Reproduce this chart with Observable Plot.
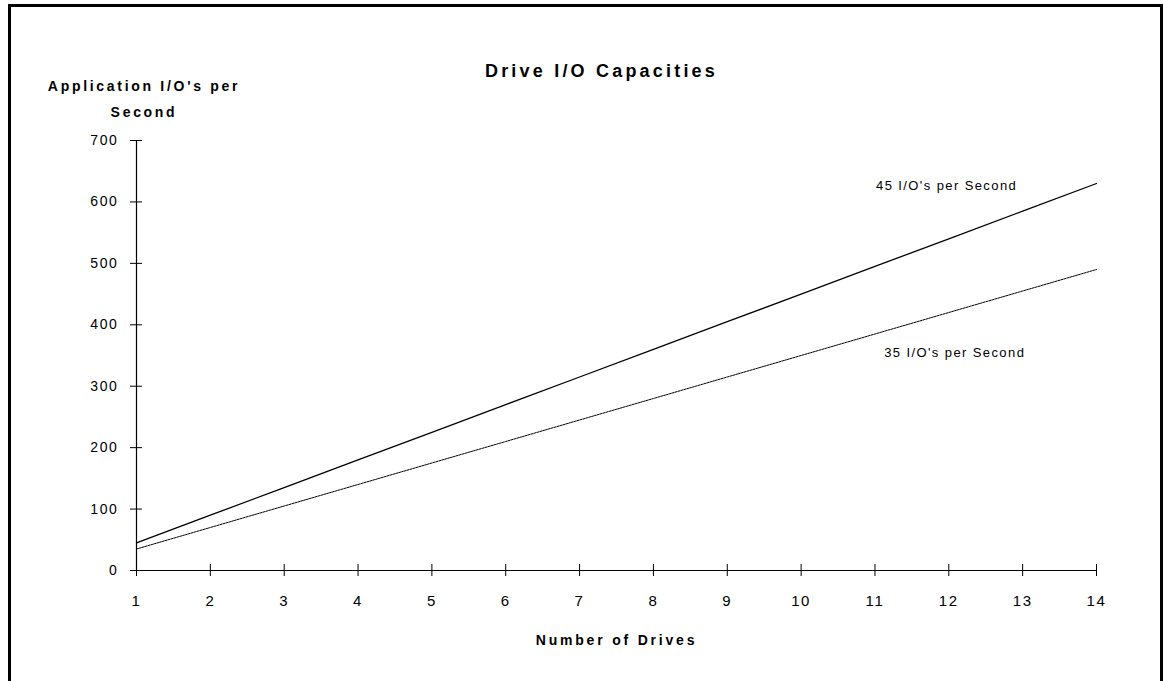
<!DOCTYPE html>
<html>
<head>
<meta charset="utf-8">
<script src="https://cdn.jsdelivr.net/npm/d3@7"></script>
<script src="https://cdn.jsdelivr.net/npm/@observablehq/plot@0.6"></script>
<style>
  html, body { margin: 0; padding: 0; background: #fff; }
  #wrap { position: relative; width: 1165px; height: 681px; overflow: hidden; font-family: "Liberation Sans", Arial, sans-serif; }
  #border { position: absolute; left: 8px; top: 4px; width: 1149px; height: 720px; border: 3px solid #000; }
  .lbl { position: absolute; color: #000; font-weight: bold; white-space: nowrap; }
  #title { left: 0; width: 1203px; top: 61px; text-align: center; font-size: 18px; letter-spacing: 3.2px; }
  #ylab { left: 0; width: 288px; top: 73px; text-align: center; font-size: 14px; letter-spacing: 2.7px; line-height: 26px; }
  #xlab { left: 0; width: 1233px; top: 632px; text-align: center; font-size: 14px; letter-spacing: 2.8px; }
  #chart { position: absolute; left: 0; top: 0; }
  g[aria-label="y-axis tick label"] text { font-size: 14px !important; letter-spacing: 1.6px; }
  g[aria-label="x-axis tick label"] text { font-size: 15px !important; letter-spacing: 1.6px; }
  g[aria-label="text"] text { font-size: 13px !important; letter-spacing: 1.4px; }
</style>
</head>
<body>
<div id="wrap">
  <div id="border"></div>
  <div id="chart"></div>
  <div class="lbl" id="title">Drive I/O Capacities</div>
  <div class="lbl" id="ylab">Application I/O's per<br>Second</div>
  <div class="lbl" id="xlab">Number of Drives</div>
</div>
<script>
const drives = [1,2,3,4,5,6,7,8,9,10,11,12,13,14];
const io45 = [45,90,135,180,225,270,315,360,405,450,495,540,585,630];
const io35 = [35,70,105,140,175,210,245,280,315,350,385,420,455,490];
const yTicks = [0,100,200,300,400,500,600,700];
const xTicks = drives;
const seriesLabels = ["45 I/O's per Second", "35 I/O's per Second"];
const labelX = [11.97, 12.08];
const labelY = [627, 355];

const d45 = drives.map((d, i) => ({x: d, y: io45[i]}));
const d35 = drives.map((d, i) => ({x: d, y: io35[i]}));
const ann = seriesLabels.map((t, i) => ({t, x: labelX[i], y: labelY[i]}));

const plot = Plot.plot({
  width: 1165,
  height: 681,
  marginLeft: 136,
  marginRight: 69,
  marginTop: 140,
  marginBottom: 111,
  style: {fontFamily: "Liberation Sans, Arial, sans-serif", fontSize: "13px", color: "#000", background: "transparent", overflow: "visible"},
  x: {domain: [1, 14]},
  y: {domain: [0, 700]},
  marks: [
    Plot.ruleX([1], {stroke: "#000", strokeWidth: 1.2}),
    Plot.ruleY([0], {stroke: "#000", strokeWidth: 1.2}),
    Plot.axisY({ticks: yTicks, tickSize: 6, tickPadding: 12, label: null, stroke: "#000", strokeOpacity: 1}),
    Plot.axisY({ticks: yTicks, tickSize: -6, tickFormat: () => "", label: null, stroke: "#000", strokeOpacity: 1}),
    Plot.axisX({ticks: xTicks, tickSize: 6, tickPadding: 19, label: null, stroke: "#000", strokeOpacity: 1}),
    Plot.axisX({ticks: xTicks, tickSize: -6, tickFormat: () => "", label: null, stroke: "#000", strokeOpacity: 1}),
    Plot.line(d45, {x: "x", y: "y", stroke: "#000", strokeWidth: 1.3}),
    Plot.line(d35, {x: "x", y: "y", stroke: "#000", strokeWidth: 1, strokeDasharray: "2,1"}),
    Plot.text(ann, {x: "x", y: "y", text: "t", fill: "#000", textAnchor: "middle"})
  ]
});
document.getElementById("chart").appendChild(plot);
</script>
</body>
</html>
